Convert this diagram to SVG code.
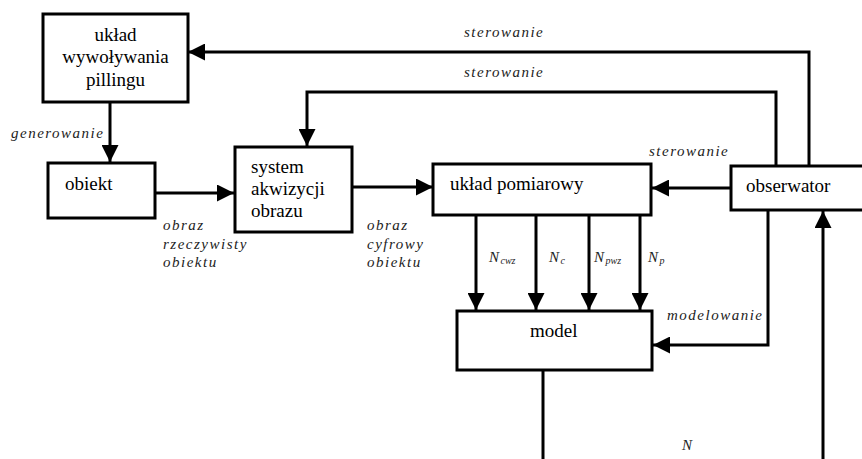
<svg xmlns="http://www.w3.org/2000/svg" width="862" height="459" viewBox="0 0 862 459">
<style>
.box{fill:#fff;stroke:#000;stroke-width:3}
.t{font-family:'Liberation Serif','DejaVu Serif',serif;font-size:19px;fill:#000}
.lab{font-family:'Liberation Serif','DejaVu Serif',serif;font-size:15px;font-style:italic;letter-spacing:1.5px;fill:#222}
.sub{font-size:10px;letter-spacing:0}
.c{fill:none;stroke:#000;stroke-width:3}
.a{marker-end:url(#ah)}
</style>
<defs>
<marker id="ah" viewBox="0 0 17 17" refX="17" refY="8.5" markerWidth="17" markerHeight="17" markerUnits="userSpaceOnUse" orient="auto">
<path d="M0,0 L17,8.5 L0,17 z" fill="#000"/>
</marker>
</defs>
<rect width="862" height="459" fill="#fff"/>
<g id="connectors">
<path class="c a" d="M809,166 V52 H188"/>
<path class="c a" d="M776,166 V92 H307 V146"/>
<path class="c a" d="M110,102 V162"/>
<path class="c a" d="M155,193 H234"/>
<path class="c a" d="M350,187 H433"/>
<path class="c a" d="M731,188 H652"/>
<path class="c a" d="M476,215 V310"/>
<path class="c a" d="M536,215 V310"/>
<path class="c a" d="M589,215 V310"/>
<path class="c a" d="M640,215 V310"/>
<path class="c a" d="M768,210 V345 H653"/>
<path class="c" d="M543,370 V459"/>
<path class="c a" d="M823,459 V211"/>
<text class="lab" x="464" y="37">sterowanie</text>
<text class="lab" x="464" y="77">sterowanie</text>
<text class="lab" x="649" y="156">sterowanie</text>
<text class="lab" x="11" y="138">generowanie</text>
<text class="lab" x="163" y="230">obraz</text>
<text class="lab" x="163" y="249">rzeczywisty</text>
<text class="lab" x="163" y="267">obiektu</text>
<text class="lab" x="367" y="230">obraz</text>
<text class="lab" x="367" y="249">cyfrowy</text>
<text class="lab" x="367" y="267">obiektu</text>
<text class="lab" x="667" y="320">modelowanie</text>
<text class="lab" x="682" y="450">N</text>
<text class="lab" x="489" y="262">N<tspan class="sub" dy="2">cwz</tspan></text>
<text class="lab" x="549" y="262">N<tspan class="sub" dy="2">c</tspan></text>
<text class="lab" x="594" y="262">N<tspan class="sub" dy="2">pwz</tspan></text>
<text class="lab" x="648" y="262">N<tspan class="sub" dy="2">p</tspan></text>
</g>
<g id="uklad-wywolywania">
<rect class="box" x="43" y="14" width="145" height="88"/>
<text class="t" x="115.5" y="41" text-anchor="middle">układ</text>
<text class="t" x="115.5" y="63" text-anchor="middle">wywoływania</text>
<text class="t" x="115.5" y="86" text-anchor="middle">pillingu</text>
</g>
<g id="obiekt">
<rect class="box" x="48" y="163" width="107" height="55"/>
<text class="t" x="65" y="190">obiekt</text>
</g>
<g id="system">
<rect class="box" x="235" y="147" width="117" height="85"/>
<text class="t" x="251" y="173">system</text>
<text class="t" x="251" y="195">akwizycji</text>
<text class="t" x="251" y="217">obrazu</text>
</g>
<g id="uklad-pomiarowy">
<rect class="box" x="433" y="164" width="218" height="51"/>
<text class="t" x="450" y="190">układ pomiarowy</text>
</g>
<g id="obserwator">
<rect class="box" x="731" y="166" width="140" height="44"/>
<text class="t" x="746" y="192">obserwator</text>
</g>
<g id="model">
<rect class="box" x="457" y="311" width="195" height="59"/>
<text class="t" x="530" y="337">model</text>
</g>
</svg>
